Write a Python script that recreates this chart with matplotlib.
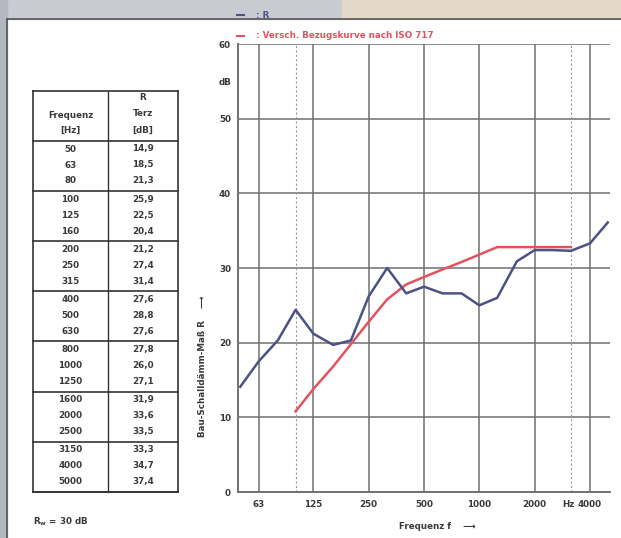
import numpy as np
import matplotlib.pyplot as plt
import matplotlib.transforms as mtransforms
from matplotlib.patches import Rectangle
from matplotlib.lines import Line2D

# measured curve (as drawn) and shifted ISO 717 reference
freq = [50, 63, 80, 100, 125, 160, 200, 250, 315, 400, 500, 630, 800,
        1000, 1250, 1600, 2000, 2500, 3150, 4000, 5000]
r_curve = [14.1, 17.5, 20.3, 24.4, 21.2, 19.7, 20.3, 26.2, 30.0, 26.6, 27.5,
           26.6, 26.6, 25.0, 26.0, 30.9, 32.4, 32.4, 32.3, 33.3, 36.1]
ref_freq = [100, 125, 160, 200, 250, 315, 400, 500, 630, 800, 1000, 1250,
            1600, 2000, 2500, 3150]
ref_curve = [10.8, 13.8, 16.8, 19.8, 22.8, 25.8, 27.8, 28.8, 29.8, 30.8,
             31.8, 32.8, 32.8, 32.8, 32.8, 32.8]

# table text
tab_freq = ['50', '63', '80', '100', '125', '160', '200', '250', '315', '400',
            '500', '630', '800', '1000', '1250', '1600', '2000', '2500',
            '3150', '4000', '5000']
tab_r = ['14,9', '18,5', '21,3', '25,9', '22,5', '20,4', '21,2', '27,4',
         '31,4', '27,6', '28,8', '27,6', '27,8', '26,0', '27,1', '31,9',
         '33,6', '33,5', '33,3', '34,7', '37,4']

xticks = [63, 125, 250, 500, 1000, 2000, 3150, 4000]
xticklabels = ['63', '125', '250', '500', '1000', '2000', 'Hz', '4000']
grid_solid = [63, 125, 250, 500, 1000, 2000, 4000]
grid_dashed = [100, 3150]
yticks = [0, 10, 20, 30, 40, 50, 55, 60]
yticklabels = ['0', '10', '20', '30', '40', '50', 'dB', '60']

blue = '#4d5284'
red = '#e2535e'
txt = '#3a3a3a'
W, H = 621, 538
fs = 6.3

plt.rcParams['font.family'] = ['DejaVu Sans']
plt.rcParams['font.weight'] = 'bold'
plt.rcParams['axes.labelweight'] = 'bold'
fig = plt.figure(figsize=(W / 100, H / 100), dpi=100)

def fx(x):
    return x / W

def fy(y):
    return 1 - y / H

def fig_line(xs, ys, color='#333', lw=1.2):
    fig.lines.append(Line2D([fx(x) for x in xs], [fy(y) for y in ys],
                            transform=fig.transFigure, color=color, lw=lw))

# screenshot frame
fig.patches.append(Rectangle((0, fy(19)), 0.55, 19 / H, transform=fig.transFigure,
                             color='#c9cbd2', zorder=0))
fig.patches.append(Rectangle((0.55, fy(19)), 0.45, 19 / H, transform=fig.transFigure,
                             color='#e2d9cb', zorder=0))
fig.patches.append(Rectangle((0, 0), fx(7), 1, transform=fig.transFigure,
                             color='#b4b6c0', zorder=0))
fig_line([7, W], [19, 19], color='#555')
fig_line([7, 7], [H, 19], color='#555')

ax = fig.add_axes([fx(238), fy(492), fx(372), 448 / H])
ax.set_xscale('log')
ax.set_xlim(48.6, 5140)
ax.set_ylim(0, 60)

for y in range(10, 61, 10):
    ax.axhline(y, color='#707070', lw=1.1, zorder=1)
for f in grid_solid:
    ax.axvline(f, color='#707070', lw=1.1, zorder=1)
for f in grid_dashed:
    ax.axvline(f, color='#999999', lw=0.8, ls=(0, (2, 2)), zorder=1)

ax.plot(ref_freq, ref_curve, color=red, lw=1.8, zorder=3)
ax.plot(freq, r_curve, color=blue, lw=1.8, zorder=4)

ax.set_xticks(xticks)
ax.set_xticklabels(xticklabels)
ax.xaxis.set_minor_locator(plt.NullLocator())
ax.set_yticks(yticks)
ax.set_yticklabels(yticklabels)
ax.tick_params(length=0, labelsize=fs, colors=txt)
ax.tick_params(axis='x', pad=6)
ax.tick_params(axis='y', pad=5)
hz = ax.get_xticklabels()[6]
hz.set_transform(hz.get_transform() +
                 mtransforms.ScaledTranslation(-3 / 100, 0, fig.dpi_scale_trans))
for s in ['top', 'right']:
    ax.spines[s].set_visible(False)
for s in ['left', 'bottom']:
    ax.spines[s].set_color('#707070')
    ax.spines[s].set_linewidth(1.4)

ax.set_ylabel('Bau-Schalldämm-Maß R    ⟶', fontsize=fs, color=txt)
ax.yaxis.set_label_coords(-0.083, 0.28)
ax.set_xlabel('Frequenz f    ⟶', fontsize=fs, color=txt)
ax.xaxis.set_label_coords(0.535, -0.067)

# legend lines above the plot
fig_line([237, 244], [15, 15], color=blue, lw=1.5)
fig.text(fx(256), fy(15), ': R', color=blue, fontsize=fs, va='center')
fig_line([237, 244], [36, 36], color=red, lw=1.5)
fig.text(fx(256), fy(36), ': Versch. Bezugskurve nach ISO 717', color=red,
         fontsize=fs, va='center')

# table on the left
tl, tm, tr = 33, 108, 178
top, head = 91, 141
row_h = 16.7
c1, c2 = (tl + tm) / 2, (tm + tr) / 2

n = len(tab_freq)
bottom = head + 3 * row_h * 7
fig_line([tl, tr], [top, top])
fig_line([tl, tr], [head, head])
fig_line([tl, tl], [top, bottom])
fig_line([tr, tr], [top, bottom])
fig_line([tm, tm], [top, bottom], lw=1.0)
kw = dict(fontsize=fs, color=txt, ha='center', va='center')
fig.text(fx(c2), fy(97), 'R', **kw)
fig.text(fx(c2), fy(114), 'Terz', **kw)
fig.text(fx(c2), fy(130), '[dB]', **kw)
fig.text(fx(c1), fy(116), 'Frequenz', **kw)
fig.text(fx(c1), fy(130), '[Hz]', **kw)
for i in range(n):
    g, k = divmod(i, 3)
    yc = head + g * 3 * row_h + 8 + k * 16
    fig.text(fx(c1), fy(yc), tab_freq[i], **kw)
    fig.text(fx(c2), fy(yc), tab_r[i], **kw)
    if k == 2:
        yl = head + (g + 1) * 3 * row_h
        fig_line([tl, tr], [yl, yl], lw=1.4 if g == 6 else 1.2)

fig.text(fx(33), fy(522), r'R$_{\mathbf{w}}$ = 30 dB', fontsize=fs,
         color=txt, va='center')

fig.savefig('out.png', dpi=100)
